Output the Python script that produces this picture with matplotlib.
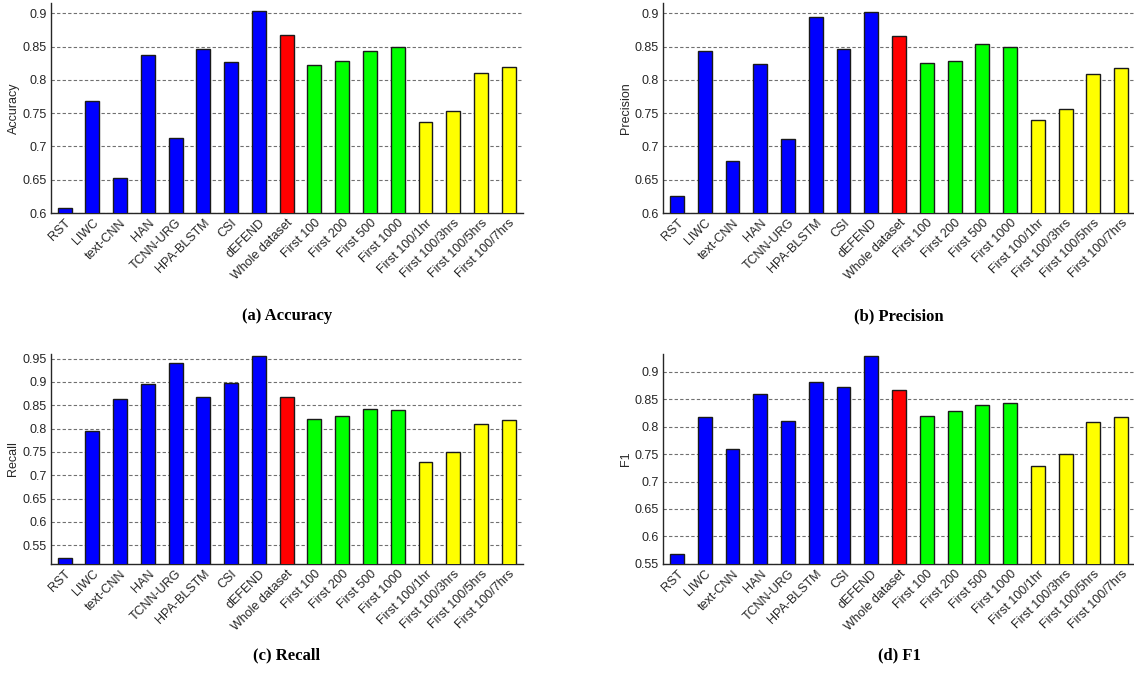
import numpy as np
import matplotlib
matplotlib.use("Agg")
import matplotlib.pyplot as plt

plt.rcParams['font.family'] = ['Liberation Sans', 'DejaVu Sans']

# categories and bar colours
labels = ["RST", "LIWC", "text-CNN", "HAN", "TCNN-URG", "HPA-BLSTM", "CSI", "dEFEND",
          "Whole dataset", "First 100", "First 200", "First 500", "First 1000",
          "First 100/1hr", "First 100/3hrs", "First 100/5hrs", "First 100/7hrs"]
colors = ["#0000ff"] * 8 + ["#ff0000"] + ["#00ff00"] * 4 + ["#ffff00"] * 4

# values
accuracy = [0.607, 0.769, 0.653, 0.837, 0.712, 0.846, 0.827, 0.904,
            0.867, 0.822, 0.829, 0.844, 0.850, 0.736, 0.753, 0.811, 0.819]
precision = [0.625, 0.843, 0.678, 0.824, 0.711, 0.894, 0.847, 0.902,
             0.866, 0.825, 0.829, 0.854, 0.849, 0.739, 0.756, 0.809, 0.818]
recall = [0.522, 0.794, 0.863, 0.896, 0.941, 0.868, 0.897, 0.956,
          0.867, 0.821, 0.828, 0.841, 0.839, 0.729, 0.751, 0.809, 0.818]
f1 = [0.569, 0.818, 0.760, 0.860, 0.810, 0.881, 0.871, 0.928,
      0.866, 0.820, 0.828, 0.839, 0.842, 0.729, 0.750, 0.808, 0.818]

panels = [
    (accuracy, "Accuracy", "(a) Accuracy", (0.6, 0.915), np.arange(0.6, 0.91, 0.05)),
    (precision, "Precision", "(b) Precision", (0.6, 0.915), np.arange(0.6, 0.91, 0.05)),
    (recall, "Recall", "(c) Recall", (0.51, 0.96), np.arange(0.55, 0.96, 0.05)),
    (f1, "F1", "(d) F1", (0.55, 0.932), np.arange(0.55, 0.91, 0.05)),
]

# axes rectangles (left, bottom, width, height) in figure fraction
rects = [
    [0.0447, 0.6863, 0.4162, 0.3088],
    [0.5847, 0.6863, 0.4162, 0.3088],
    [0.0447, 0.1694, 0.4162, 0.3093],
    [0.5847, 0.1694, 0.4162, 0.3093],
]
caption_y = [1 - 316 / 679, 1 - 316 / 679, 1 - 655 / 679, 1 - 655 / 679]

fig = plt.figure(figsize=(11.34, 6.79), dpi=100)
txt_col = "#262626"

for (vals, ylab, cap, ylim, yt), rect, cy in zip(panels, rects, caption_y):
    ax = fig.add_axes(rect)
    x = np.arange(len(labels))
    ax.bar(x, vals, width=0.5, color=colors, edgecolor="#1a1a1a", linewidth=1.0, zorder=3)
    ax.set_xlim(-0.5, len(labels) - 0.5)
    ax.set_ylim(*ylim)
    ax.set_yticks(yt)
    ax.set_yticklabels([("%.2f" % v).rstrip("0").rstrip(".") for v in yt])
    ax.set_xticks(x)
    ax.set_xticklabels(labels, rotation=45, ha="right", rotation_mode="anchor")
    ax.tick_params(axis="both", length=0, labelsize=9, colors=txt_col, pad=3)
    ax.set_ylabel(ylab, fontsize=9, color=txt_col, labelpad=2)
    ax.yaxis.grid(True, linestyle=(0, (3, 2)), color="#707070", linewidth=0.8, zorder=0)
    for s in ["top", "right"]:
        ax.spines[s].set_visible(False)
    for s in ["left", "bottom"]:
        ax.spines[s].set_color(txt_col)
        ax.spines[s].set_linewidth(1.0)
    fig.text(rect[0] + rect[2] / 2, cy, cap, ha="center", va="center",
             fontsize=12, fontweight="bold", family=["Liberation Serif", "DejaVu Serif"])

fig.savefig("out.png", dpi=100)
